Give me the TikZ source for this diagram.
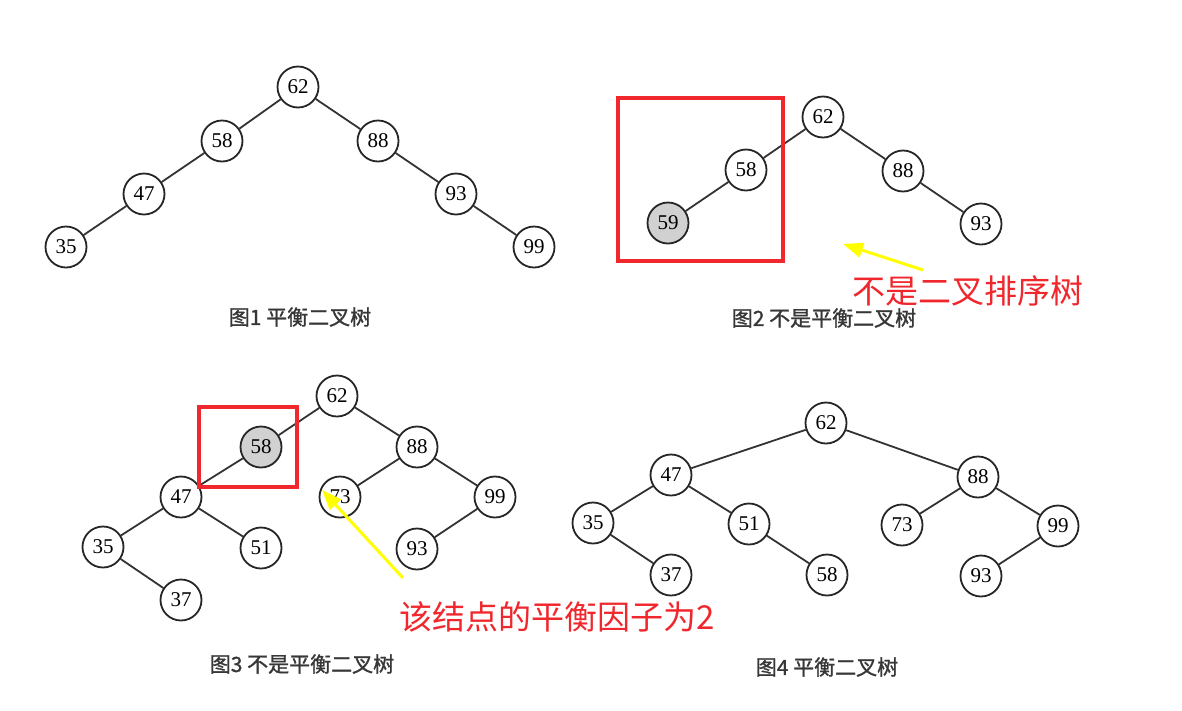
\documentclass[tikz,border=0pt]{standalone}
\usepackage{fontspec}
\setmainfont{Liberation Serif}
\newfontfamily\cjk{Noto Sans CJK SC}
\newfontfamily\cjkcap[FakeBold=1.2]{Noto Sans CJK SC}
\usetikzlibrary{arrows.meta}
\definecolor{redmark}{RGB}{240,40,45}
\definecolor{yellowmark}{RGB}{255,255,0}
\definecolor{capgray}{RGB}{55,55,55}
\tikzset{
  tn/.style={circle,draw=black!85,line width=1.8pt,minimum size=41pt,inner sep=0pt,
    font=\fontsize{21}{21}\selectfont,fill=white},
  hl/.style={tn,fill=black!18},
  edge/.style={draw=black!80,line width=1.8pt},
  captext/.style={font=\cjkcap\fontsize{21}{21}\selectfont,text=capgray},
  redbox/.style={draw=redmark,line width=3.5pt},
  redtext/.style={font=\cjk\fontsize{33}{33}\selectfont,text=redmark},
  yarrow/.style={draw=yellowmark,line width=3pt,-{Triangle[length=20pt,width=15pt]}}
}
\begin{document}
\begin{tikzpicture}[x=1pt,y=-1pt]
\path[fill=white] (0,0) rectangle (1182,710);
\useasboundingbox (0,0) rectangle (1182,710);
% Tree 1
\node[tn] (a62) at (298,87) {62};
\node[tn] (a58) at (222,141) {58};
\node[tn] (a88) at (378,141) {88};
\node[tn] (a47) at (144,194) {47};
\node[tn] (a93) at (456,194) {93};
\node[tn] (a35) at (66,247) {35};
\node[tn] (a99) at (534,247) {99};
\draw[edge] (a62)--(a58) (a58)--(a47) (a47)--(a35) (a62)--(a88) (a88)--(a93) (a93)--(a99);
\node[captext] (c1) at (300,317) {图1 平衡二叉树};
% Tree 2
\node[tn] (b62) at (823,117) {62};
\node[tn] (b58) at (746,170) {58};
\node[hl] (b59) at (668,223) {59};
\node[tn] (b88) at (903,171) {88};
\node[tn] (b93) at (981,224) {93};
\draw[edge] (b62)--(b58) (b58)--(b59) (b62)--(b88) (b88)--(b93);
\draw[redbox] (618,98) rectangle (783,261);
\node[captext] (c2) at (824,318) {图2 不是平衡二叉树};
\coordinate (y1s) at (923,270);
\coordinate (y1e) at (843,244);
\draw[yarrow] (y1s)--(y1e);
\node[redtext] (r1) at (968,291) {不是二叉排序树};
% Tree 3
\node[tn] (d62) at (337,396) {62};
\node[hl] (d58) at (261,447) {58};
\node[tn] (d88) at (417,447) {88};
\node[tn] (d47) at (181,497) {47};
\node[tn] (d73) at (340,497) {73};
\node[tn] (d99) at (495,497) {99};
\node[tn] (d35) at (103,547) {35};
\node[tn] (d51) at (261,548) {51};
\node[tn] (d93) at (417,549) {93};
\node[tn] (d37) at (181,600) {37};
\draw[edge] (d62)--(d58) (d58)--(d47) (d47)--(d35) (d35)--(d37) (d47)--(d51)
  (d62)--(d88) (d88)--(d73) (d88)--(d99) (d99)--(d93);
\draw[redbox] (199,407) rectangle (297,487);
\node[captext] (c3) at (302,664) {图3 不是平衡二叉树};
\coordinate (y2s) at (403,578);
\coordinate (y2e) at (322,490);
\draw[yarrow] (y2s)--(y2e);
\node[redtext,anchor=west] (r2) at (396,617) {该结点的平衡因子为2};
% Tree 4
\node[tn] (e62) at (826,423) {62};
\node[tn] (e47) at (671,475) {47};
\node[tn] (e88) at (978,477) {88};
\node[tn] (e35) at (593,523) {35};
\node[tn] (e51) at (749,524) {51};
\node[tn] (e73) at (902,525) {73};
\node[tn] (e99) at (1058,526) {99};
\node[tn] (e37) at (671,575) {37};
\node[tn] (e58) at (827,575) {58};
\node[tn] (e93) at (981,576) {93};
\draw[edge] (e62)--(e47) (e47)--(e35) (e35)--(e37) (e47)--(e51) (e51)--(e58)
  (e62)--(e88) (e88)--(e73) (e88)--(e99) (e99)--(e93);
\node[captext] (c4) at (827,667) {图4 平衡二叉树};
\end{tikzpicture}
\end{document}
